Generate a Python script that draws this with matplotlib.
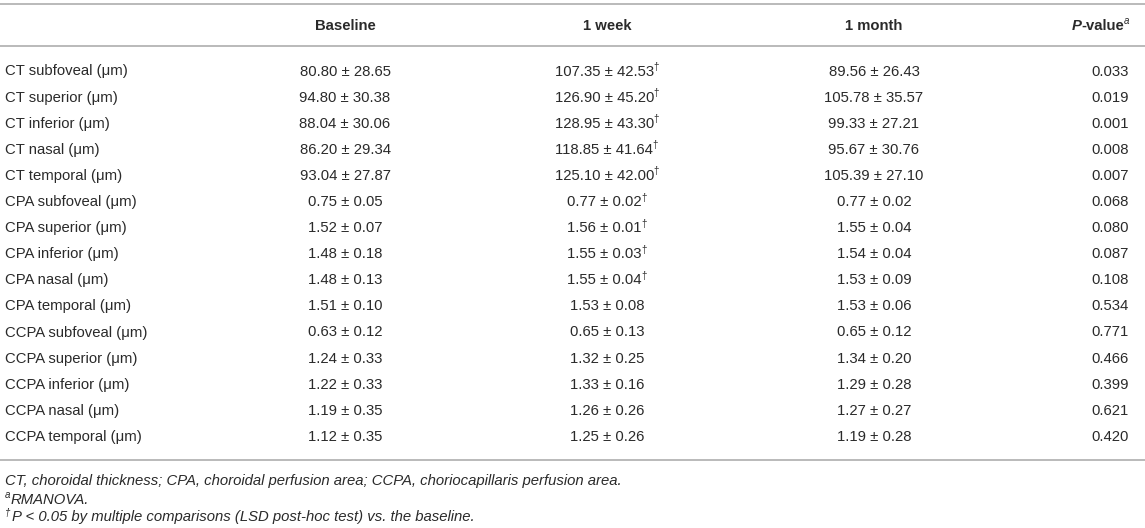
import matplotlib
matplotlib.use("Agg")
import matplotlib.pyplot as plt
from matplotlib.lines import Line2D

# ---- data ----
row_labels = [
    "CT subfoveal (μm)", "CT superior (μm)", "CT inferior (μm)", "CT nasal (μm)",
    "CT temporal (μm)", "CPA subfoveal (μm)", "CPA superior (μm)", "CPA inferior (μm)",
    "CPA nasal (μm)", "CPA temporal (μm)", "CCPA subfoveal (μm)", "CCPA superior (μm)",
    "CCPA inferior (μm)", "CCPA nasal (μm)", "CCPA temporal (μm)",
]
col_headers = ["Baseline", "1 week", "1 month"]
baseline = ["80.80 ± 28.65", "94.80 ± 30.38", "88.04 ± 30.06", "86.20 ± 29.34",
            "93.04 ± 27.87", "0.75 ± 0.05", "1.52 ± 0.07", "1.48 ± 0.18",
            "1.48 ± 0.13", "1.51 ± 0.10", "0.63 ± 0.12", "1.24 ± 0.33",
            "1.22 ± 0.33", "1.19 ± 0.35", "1.12 ± 0.35"]
week1 = ["107.35 ± 42.53", "126.90 ± 45.20", "128.95 ± 43.30", "118.85 ± 41.64",
         "125.10 ± 42.00", "0.77 ± 0.02", "1.56 ± 0.01", "1.55 ± 0.03",
         "1.55 ± 0.04", "1.53 ± 0.08", "0.65 ± 0.13", "1.32 ± 0.25",
         "1.33 ± 0.16", "1.26 ± 0.26", "1.25 ± 0.26"]
week1_sig = [True, True, True, True, True, True, True, True, True,
             False, False, False, False, False, False]
month1 = ["89.56 ± 26.43", "105.78 ± 35.57", "99.33 ± 27.21", "95.67 ± 30.76",
          "105.39 ± 27.10", "0.77 ± 0.02", "1.55 ± 0.04", "1.54 ± 0.04",
          "1.53 ± 0.09", "1.53 ± 0.06", "0.65 ± 0.12", "1.34 ± 0.20",
          "1.29 ± 0.28", "1.27 ± 0.27", "1.19 ± 0.28"]
p_values = ["0.033", "0.019", "0.001", "0.008", "0.007", "0.068", "0.080",
            "0.087", "0.108", "0.534", "0.771", "0.466", "0.399", "0.621", "0.420"]
footnote1 = "CT, choroidal thickness; CPA, choroidal perfusion area; CCPA, choriocapillaris perfusion area."
footnote2 = "RMANOVA."
footnote3 = "P < 0.05 by multiple comparisons (LSD post-hoc test) vs. the baseline."

# ---- layout ----
W, H = 1145, 528
FONT = "Liberation Sans"
FS = 10.7
SUP_FS = 7.0
TXT = "#2a2a2a"
LINE = "#b4b4b4"

fig = plt.figure(figsize=(W / 100, H / 100), dpi=100)
ax = fig.add_axes([0, 0, 1, 1])
ax.set_xlim(0, W)
ax.set_ylim(H, 0)
ax.axis("off")
renderer = fig.canvas.get_renderer()

def width_of(s, **kw):
    t = ax.text(0, 0, s, fontsize=kw.get("fontsize", FS), family=FONT,
                fontweight=kw.get("fontweight", "normal"),
                fontstyle=kw.get("fontstyle", "normal"))
    w = t.get_window_extent(renderer).width
    t.remove()
    return w

def put(x, y, s, ha="left", **kw):
    ax.text(x, y, s, ha=ha, va="center_baseline", color=TXT, family=FONT,
            fontsize=kw.pop("fontsize", FS), **kw)

def put_with_sup(x, y, main, sup, ha="center", **kw):
    wm = width_of(main, **kw)
    ws = width_of(sup, fontsize=SUP_FS) if sup else 0
    total = wm + ws
    left = x - total / 2 if ha == "center" else (x - total if ha == "right" else x)
    put(left, y, main, "left", **kw)
    if sup:
        put(left + wm - 0.5, y - 4, sup, "left", fontsize=SUP_FS)

for yy in (4, 46, 460):
    ax.add_line(Line2D([0, W], [yy, yy], color=LINE, lw=1.3))

x_label = 5
x_cols = [345, 607, 874]
x_p = 1129
y_header = 24
y0 = 70
dy = 26.1

for xc, h in zip(x_cols, col_headers):
    put(xc, y_header, h, "center", fontweight="bold")

# P-value header
w_a = width_of("a", fontsize=SUP_FS, fontstyle="italic")
w_val = width_of("-value", fontweight="bold")
w_P = width_of("P", fontweight="bold", fontstyle="italic")
right = x_p
put(right - w_a, y_header - 4, "a", fontsize=SUP_FS, fontstyle="italic")
put(right - w_a - w_val + 0.5, y_header, "-value", fontweight="bold")
put(right - w_a - w_val - w_P + 0.5, y_header, "P", fontweight="bold", fontstyle="italic")

for i, lab in enumerate(row_labels):
    y = y0 + i * dy
    put(x_label, y, lab)
    put(x_cols[0], y, baseline[i], "center")
    put_with_sup(x_cols[1], y, week1[i], "†" if week1_sig[i] else "", "center")
    put(x_cols[2], y, month1[i], "center")
    put(x_p, y, p_values[i], "right")

# footnotes
put(x_label, 480, footnote1, fontstyle="italic")
wa = width_of("a", fontsize=SUP_FS, fontstyle="italic")
put(x_label, 494, "a", fontsize=SUP_FS, fontstyle="italic")
put(x_label + wa, 498, footnote2, fontstyle="italic")
wd = width_of("†", fontsize=SUP_FS, fontstyle="italic")
put(x_label, 512, "†", fontsize=SUP_FS, fontstyle="italic")
put(x_label + wd + 2, 516, footnote3, fontstyle="italic")

fig.savefig("out.png", dpi=100)
